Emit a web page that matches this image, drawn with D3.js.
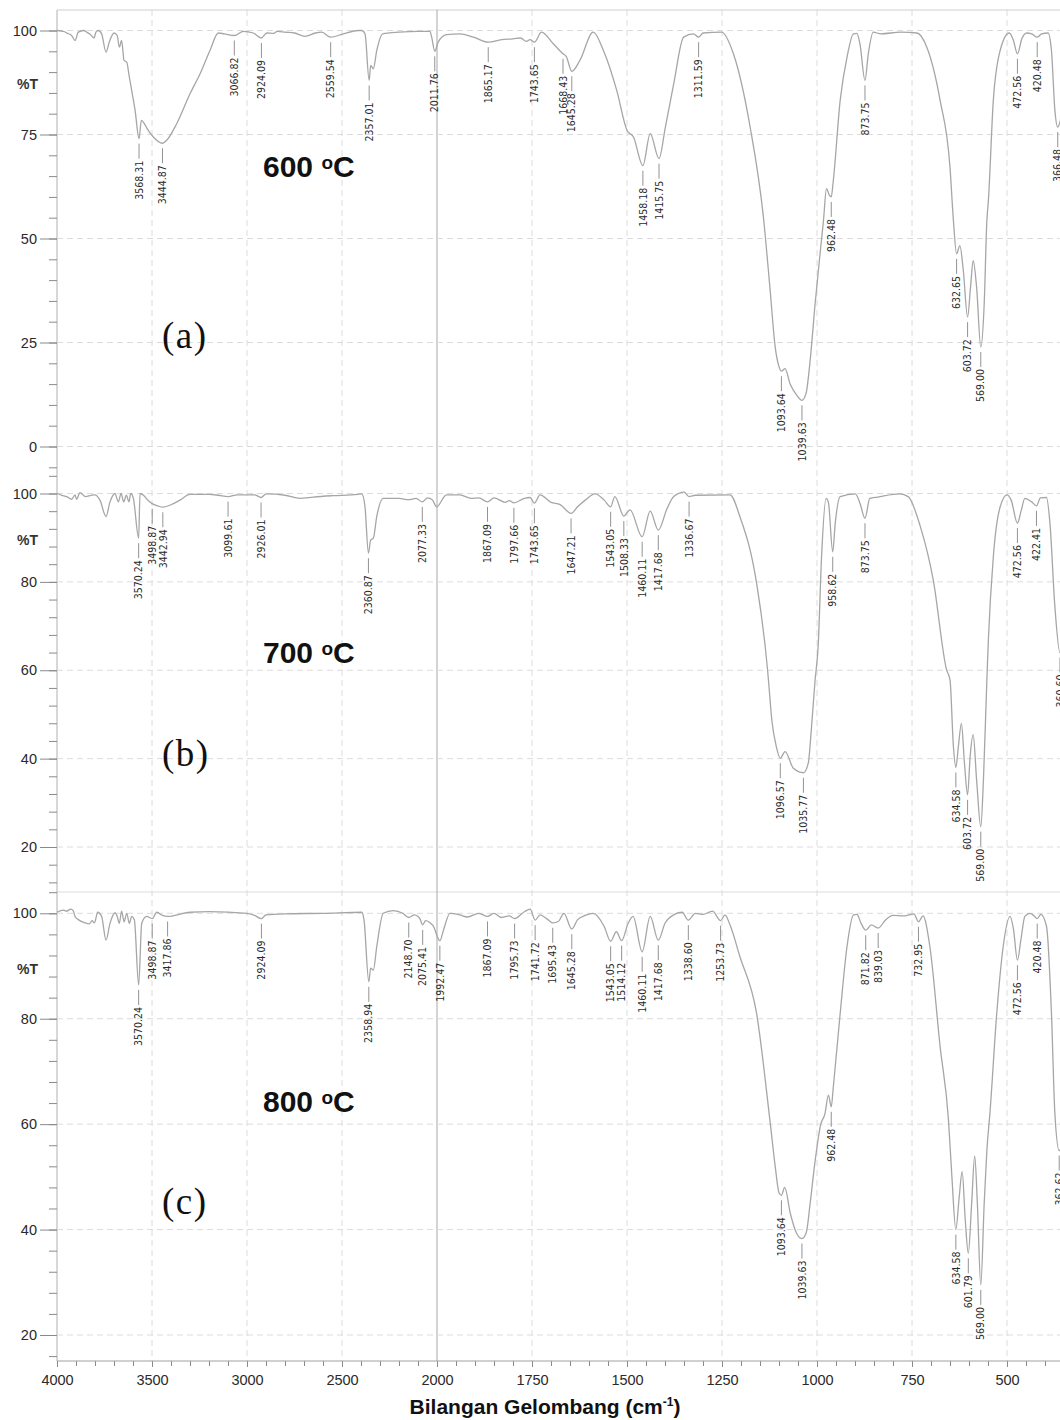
<!DOCTYPE html>
<html>
<head>
<meta charset="utf-8">
<script src="https://cdn.jsdelivr.net/npm/d3@7/dist/d3.min.js"></script>
<style>
  body { margin: 0; background: #fff; }
  svg { display: block; font-family: "Liberation Sans", Arial, sans-serif; }
  .peak text { font-family: "Liberation Sans Narrow", "Arial Narrow", "DejaVu Sans Condensed", sans-serif; font-size: 10.5px; fill: #2a2a2a; }
  .grid { stroke: #dcdcdc; stroke-dasharray: 6,4; }
  .tick text { font-size: 14.5px; fill: #2a2a2a; }
</style>
</head>
<body>
<svg id="chart" width="1060" height="1420"></svg>
<script>

// x axis tick labels (cm-1), scale changes at 2000
const xMajor = [4000, 3500, 3000, 2500, 2000, 1750, 1500, 1250, 1000, 750, 500];

// y axis tick labels per panel
const yTicks600 = [100, 75, 50, 25, 0];
const yTicks700 = [100, 80, 60, 40, 20];
const yTicks800 = [100, 80, 60, 40, 20];

// spectrum 600 C  [wavenumber, %T]
const spec600 = [
  [4000,100],[3960,99.7],[3949,99.4],[3923,98.8],[3905,97.6],[3888,99.6],[3861,100],[3840,99.5],[3826,99.1],
  [3805,98.2],[3795,99.6],[3783,100],[3765,99.2],[3742,94.8],[3725,97.2],[3700,99.4],[3683,98.8],[3672,96],
  [3660,97.6],[3647,92.8],[3633,92.4],[3620,89],[3607,85.6],[3589,80.8],[3568.31,74],[3556,78.4],[3540,77.6],
  [3528,76.6],[3493,74.4],[3444.87,72.9],[3423,73.6],[3370,77.6],[3300,84.8],[3247,89.6],[3195,95.2],
  [3151,99.4],[3120,99.2],[3066.82,98.8],[3019,99.8],[2967,99.4],[2924.09,98.2],[2896,99.4],[2860,99.3],
  [2840,99.8],[2800,99.6],[2750,99.4],[2695,98.6],[2640,99.4],[2607,99.6],[2559.54,98.4],[2493,99.2],
  [2415,100],[2396,100],[2379,99.2],[2357.01,88],[2349,91.6],[2335,90.8],[2317,95.2],[2286,99.2],[2200,99.6],
  [2100,99.8],[2037,99.8],[2028,98.4],[2011.76,95],[1997,97.2],[1975,99],[1940,99.2],[1904,98.4],
  [1865.17,97.2],[1830,97.8],[1800,98],[1780,98.2],[1765,97.4],[1755,97.8],[1743.65,97.2],[1725,99.6],
  [1694,96.8],[1668.43,94.4],[1660,93.8],[1645.28,90.2],[1624,92.8],[1589,99.6],[1562,95.2],[1527,85.6],
  [1500,76],[1483,74.4],[1458.18,67.5],[1439,75.2],[1415.75,69.2],[1399,76.8],[1377,87.2],[1351,98.4],
  [1325,99.2],[1311.59,98.4],[1300,99.4],[1251,99.6],[1220,94.4],[1176,76.8],[1141,55.1],[1124,38.3],
  [1110,23.9],[1100,19.2],[1093.64,18.1],[1084,18.7],[1071,15.1],[1053,12.3],[1039.63,11.1],[1029,12.7],
  [1018,20.7],[1005,34.3],[992,46.3],[983,54.3],[975,62],[968,60.5],[962.48,60],[957,64],[939,83.2],
  [921,93.6],[904,99.2],[895,99.3],[887,96.8],[873.75,88],[865,94.4],[852,99.6],[832,99.2],[780,99.6],
  [737,99.4],[711,96],[676,83.2],[650,67.1],[641,54.3],[632.65,46.3],[624,48.3],[615,42.3],[603.72,31.1],
  [596,38.3],[589,44.7],[580,38.3],[569.00,23.9],[560,34.3],[553,54.3],[549,59.1],[536,83.2],[518,95.2],
  [494,99.4],[483,97.6],[472.56,94.4],[461,98],[448,99.4],[435,99.2],[420.48,98.4],[409,99.2],[392,99.4],
  [383,95.2],[374,80.8],[366.48,76.8],[355,80],[340,85]
];
const peaks600 = [3568.31, 3444.87, 3066.82, 2924.09, 2559.54, 2357.01, 2011.76, 1865.17, 1743.65, 1668.43,
  1645.28, 1458.18, 1415.75, 1311.59, 1093.64, 1039.63, 962.48, 873.75, 632.65, 603.72, 569.00, 472.56,
  420.48, 366.48];

// spectrum 700 C
const spec700 = [
  [4000,100],[3975,99.6],[3949,99.3],[3923,98.7],[3905,99.7],[3897,98.7],[3879,100.2],[3850,99.3],[3820,99.6],
  [3800,99.7],[3774,98.5],[3742,94.8],[3721,98.1],[3695,100],[3677,98.1],[3663,100],[3649,98.1],[3635,99.6],
  [3621,98.1],[3612,100],[3598,98.9],[3570.24,89.9],[3563,100],[3545,99.6],[3520,98.4],[3498.87,97.7],
  [3470,97.2],[3442.94,96.9],[3403,97.4],[3353,98.5],[3300,99.8],[3200,99.8],[3150,99.6],[3099.61,99.3],
  [3050,99.7],[2960,99.7],[2926.01,99.1],[2900,99.9],[2800,99.6],[2721,98.9],[2650,99.2],[2550,99.5],
  [2416,99.8],[2396,99.9],[2379,97],[2360.87,86.5],[2349,89.5],[2335,89.9],[2317,94.8],[2283,98.9],
  [2200,98.9],[2150,98.6],[2110,98.9],[2077.33,98.1],[2050,99],[2025,98.6],[2002,97],[1975,99.7],
  [1940,99.7],[1910,98.9],[1890,99],[1867.09,98.1],[1850,99],[1820,98],[1810,98.4],[1797.66,97.9],
  [1770,98.9],[1755,99.1],[1743.65,97.8],[1729,99.7],[1700,98],[1676,97.5],[1647.21,95.5],[1630,97],
  [1610,98.5],[1584,99.9],[1560,98.5],[1543.05,97],[1532,99.3],[1508.33,94.9],[1492,96.3],[1460.11,90.2],
  [1439,96],[1417.68,91.7],[1395,96.5],[1377,99.3],[1350,100.3],[1336.67,99.3],[1320,99.6],[1229,99.7],
  [1203,94.8],[1159,79.7],[1130,60],[1127,57],[1119,48.8],[1107,42.7],[1096.57,40.1],[1084,41.6],[1062,37.8],
  [1035.77,36.8],[1023,39],[1015,46.5],[1005,57.8],[997,65.3],[988,85.7],[976,98.9],[970,98],[958.62,86.8],
  [952,93.3],[939,99.3],[899,99.9],[887,97.8],[873.75,94.4],[861,98.9],[840,99.2],[782,99.9],[760,99.3],
  [728,92.5],[694,80.4],[659,60.1],[650,57.8],[641,42.7],[634.58,38],[628,42.7],[620,48],[612,39],
  [603.72,31.8],[597,40.5],[589,45.4],[580,35.2],[569.00,24.6],[562,35.2],[553,57.8],[549,66.9],[536,85.7],
  [518,97],[500,99.7],[489,98.5],[472.56,93.3],[463,96],[453,98.9],[435,98.1],[422.41,97.2],[412,99],
  [396,99.1],[387,93.3],[374,74.4],[360.60,64],[350,68]
];
const peaks700 = [3570.24, 3498.87, 3442.94, 3099.61, 2926.01, 2360.87, 2077.33, 1867.09, 1797.66, 1743.65,
  1647.21, 1543.05, 1508.33, 1460.11, 1417.68, 1336.67, 1096.57, 1035.77, 958.62, 873.75, 634.58, 603.72,
  569.00, 472.56, 422.41, 360.60];

// spectrum 800 C
const spec800 = [
  [4000,100.2],[3967,100.6],[3950,100.4],[3928,100.8],[3915,100.5],[3905,99.4],[3888,98.8],[3853,98.2],
  [3830,98],[3815,98.6],[3805,98.2],[3800,98.4],[3786,100.2],[3765,99.4],[3742,94.9],[3721,98.1],
  [3695,100.1],[3683,99.4],[3672,98.1],[3660,100.4],[3647,98.4],[3633,100],[3619,98.1],[3607,99.4],
  [3593,98.8],[3570.24,86.4],[3554,98.1],[3528,99.4],[3498.87,99],[3475,100.2],[3445,99.6],[3417.86,99.4],
  [3380,99.6],[3300,100.2],[3200,100.3],[3000,100],[2960,99.6],[2924.09,99],[2900,99.7],[2800,99.9],
  [2600,100],[2396,100.2],[2384,98.7],[2358.94,87],[2349,89.6],[2335,89.2],[2317,93.7],[2283,100],
  [2231,100.5],[2180,100],[2148.70,99.2],[2120,99.7],[2100,99.4],[2090,99],[2075.41,97.8],[2060,98.6],
  [2040,98.3],[2020,97.6],[1992.47,94.8],[1983,96.8],[1966,100],[1940,99.7],[1920,99.3],[1890,100],
  [1867.09,99.4],[1850,100],[1830,99.2],[1810,99.5],[1795.73,99],[1770,100.3],[1755,100.8],[1741.72,98.7],
  [1729,99.7],[1710,98.9],[1695.43,98.2],[1680,98.5],[1666,100],[1645.28,97],[1630,98.8],[1610,99.6],
  [1589,100],[1560,97.5],[1543.05,94.7],[1528,96.5],[1514.12,94.8],[1497,98.1],[1484,99.4],[1460.11,92.7],
  [1439,99.4],[1417.68,94.9],[1400,98.1],[1375,99.8],[1355,100.2],[1338.60,98.7],[1320,100],[1300,99.8],
  [1275,100.4],[1253.73,98.6],[1242,99.7],[1230,98],[1203,91.8],[1159,81],[1124,60.8],[1110,52],[1100,47],
  [1093.64,46.5],[1085,48],[1070,43],[1055,39.5],[1039.63,38.3],[1028,39.5],[1018,45],[1005,53],[990,60],
  [979,62],[970,65.5],[962.48,63.3],[957,67.1],[939,81],[921,93.7],[904,99.7],[895,99.8],[884,98.1],
  [871.82,96.8],[857,97.8],[839.03,97.2],[820,98.7],[800,99.6],[770,99.5],[745,99.9],[732.95,98.4],
  [721,99.5],[703,93.7],[676,74.7],[654,60.8],[645,50],[634.58,40],[626,46],[618,51],[610,42],[601.79,35.5],
  [593,45],[585,54],[578,45],[569.00,29.5],[560,45],[553,55],[545,62],[527,81],[510,93.7],[492,99.4],
  [483,97],[472.56,91.1],[463,95.2],[453,99.4],[440,100],[430,99.6],[420.48,99],[411,99.8],[396,97.5],
  [383,81],[374,62],[362.62,55],[350,58]
];
const peaks800 = [3570.24, 3498.87, 3417.86, 2924.09, 2358.94, 2148.70, 2075.41, 1992.47, 1867.09, 1795.73,
  1741.72, 1695.43, 1645.28, 1543.05, 1514.12, 1460.11, 1417.68, 1338.60, 1253.73, 1093.64, 1039.63,
  962.48, 871.82, 839.03, 732.95, 634.58, 601.79, 569.00, 472.56, 420.48, 362.62];

const svg = d3.select('#chart');

const left = 57, axisY = 1361, topY = 10;

// broken x scale: 4000-2000 compressed, below 2000 stretched
const x = d3.scaleLinear().domain([4000, 2000, 300]).range([left, 437, 1083]);

const panels = [
  {spec: spec600, peaks: peaks600, ticks: yTicks600, y: d3.scaleLinear().domain([100, 0]).range([30.5, 446.5]),
   minor: 5, vTop: 100, vBottom: -5, temp: '600', tag: '(a)', tempY: 177, tagY: 348, tLabel: 87},
  {spec: spec700, peaks: peaks700, ticks: yTicks700, y: d3.scaleLinear().domain([100, 20]).range([493.5, 847]),
   minor: 4, vTop: 104, vBottom: 12, temp: '700', tag: '(b)', tempY: 663, tagY: 766, tLabel: 89.5},
  {spec: spec800, peaks: peaks800, ticks: yTicks800, y: d3.scaleLinear().domain([100, 20]).range([913.3, 1335]),
   minor: 4, vTop: 104, vBottom: 16, temp: '800', tag: '(c)', tempY: 1112, tagY: 1214, tLabel: 89.5}
];

// vertical grid
const gridG = svg.append('g');
xMajor.filter(d => d != 2000 && d != 4000).forEach(function(d){
  gridG.append('line').attr('class', 'grid')
    .attr('x1', x(d)).attr('x2', x(d)).attr('y1', topY).attr('y2', axisY);
});

// frame bits
svg.append('line').attr('x1', left).attr('x2', 1060).attr('y1', topY).attr('y2', topY)
  .attr('stroke', '#cfcfcf');
svg.append('line').attr('x1', left).attr('x2', 1060).attr('y1', 892).attr('y2', 892)
  .attr('stroke', '#dcdcdc');
svg.append('line').attr('x1', x(2000)).attr('x2', x(2000)).attr('y1', topY).attr('y2', axisY)
  .attr('stroke', '#a8a8a8');
svg.append('line').attr('x1', left).attr('x2', left).attr('y1', topY).attr('y2', axisY)
  .attr('stroke', '#b0b0b0');

function valueAt(spec, w){
  for(let i = 0; i < spec.length - 1; i++){
    const a = spec[i], b = spec[i + 1];
    if(w <= a[0] && w >= b[0]){
      const t = (a[0] - w) / (a[0] - b[0]);
      return a[1] + t * (b[1] - a[1]);
    }
  }
  return 100;
}

panels.forEach(function(p){
  const y = p.y;

  // horizontal grid
  p.ticks.forEach(function(v){
    svg.append('line').attr('class', 'grid')
      .attr('x1', left).attr('x2', 1060).attr('y1', y(v)).attr('y2', y(v));
  });

  // minor ticks
  const minorVals = d3.range(p.vBottom, p.vTop + 0.01, p.minor);
  const minorAxis = svg.append('g').attr('transform', `translate(${left},0)`)
    .call(d3.axisLeft(y).tickValues(minorVals).tickSize(8).tickFormat(''));
  minorAxis.select('.domain').remove();
  minorAxis.selectAll('line').attr('stroke', '#8a8a8a');

  // major ticks with labels
  const majorAxis = svg.append('g').attr('transform', `translate(${left},0)`)
    .call(d3.axisLeft(y).tickValues(p.ticks).tickSize(17).tickPadding(3));
  majorAxis.select('.domain').remove();
  majorAxis.selectAll('line').attr('stroke', '#8a8a8a');
  majorAxis.selectAll('text').attr('font-family', '"Liberation Sans", Arial, sans-serif');

  svg.append('text').attr('x', 38).attr('y', y(p.tLabel)).attr('dy', '0.35em')
    .attr('text-anchor', 'end').attr('font-size', 14).attr('font-weight', 'bold').attr('fill', '#333')
    .text('%T');

  // spectrum line
  const line = d3.line()
    .x(d => x(d[0]))
    .y(d => y(d[1]))
    .curve(d3.curveMonotoneX);

  svg.append('path').datum(p.spec)
    .attr('d', line)
    .attr('fill', 'none')
    .attr('stroke', '#a6a6a6')
    .attr('stroke-width', 1.3);

  // peak labels
  const pk = svg.append('g').attr('class', 'peak');
  p.peaks.forEach(function(w){
    const px = x(w), py = y(valueAt(p.spec, w));
    pk.append('line').attr('x1', px).attr('x2', px).attr('y1', py + 5).attr('y2', py + 20)
      .attr('stroke', '#777').attr('stroke-width', 0.8);
    pk.append('text')
      .attr('transform', `translate(${px},${py + 22}) rotate(-90)`)
      .attr('text-anchor', 'end')
      .attr('dy', '0.35em')
      .text(d3.format('.2f')(w));
  });

  // temperature and panel tag
  const t = svg.append('text').attr('x', 263).attr('y', p.tempY)
    .attr('font-size', 30).attr('font-weight', 'bold').attr('fill', '#111');
  t.append('tspan').text(p.temp + ' ');
  t.append('tspan').attr('font-size', 19).attr('dy', -8).text('o');
  t.append('tspan').attr('dy', 8).text('C');

  svg.append('text').attr('x', 162).attr('y', p.tagY)
    .attr('font-family', '"Liberation Serif", "Times New Roman", serif')
    .attr('font-size', 37).attr('letter-spacing', 1.5).attr('fill', '#111')
    .text(p.tag);
});

// bottom axis
const xMinor = d3.range(4000, 2000, -100).concat(d3.range(2000, 299, -50));
const xMinorAxis = svg.append('g').attr('transform', `translate(0,${axisY})`)
  .call(d3.axisBottom(x).tickValues(xMinor).tickSize(5).tickFormat(''));
xMinorAxis.select('.domain').remove();
xMinorAxis.selectAll('line').attr('stroke', '#8a8a8a');

const xAxis = svg.append('g').attr('transform', `translate(0,${axisY})`)
  .call(d3.axisBottom(x).tickValues(xMajor).tickSize(6).tickPadding(8).tickFormat(d3.format('d')));
xAxis.select('.domain').remove();
xAxis.selectAll('line').attr('stroke', '#8a8a8a');
xAxis.selectAll('text').attr('font-family', '"Liberation Sans", Arial, sans-serif');

svg.append('line').attr('x1', left).attr('x2', 1060).attr('y1', axisY).attr('y2', axisY)
  .attr('stroke', '#a0a0a0');

const xt = svg.append('text').attr('x', 545).attr('y', 1414).attr('text-anchor', 'middle')
  .attr('font-size', 21).attr('font-weight', 'bold').attr('fill', '#111');
xt.append('tspan').text('Bilangan Gelombang (cm');
xt.append('tspan').attr('font-size', 12).attr('dy', -8).text('-1');
xt.append('tspan').attr('dy', 8).text(')');

</script>
</body>
</html>
